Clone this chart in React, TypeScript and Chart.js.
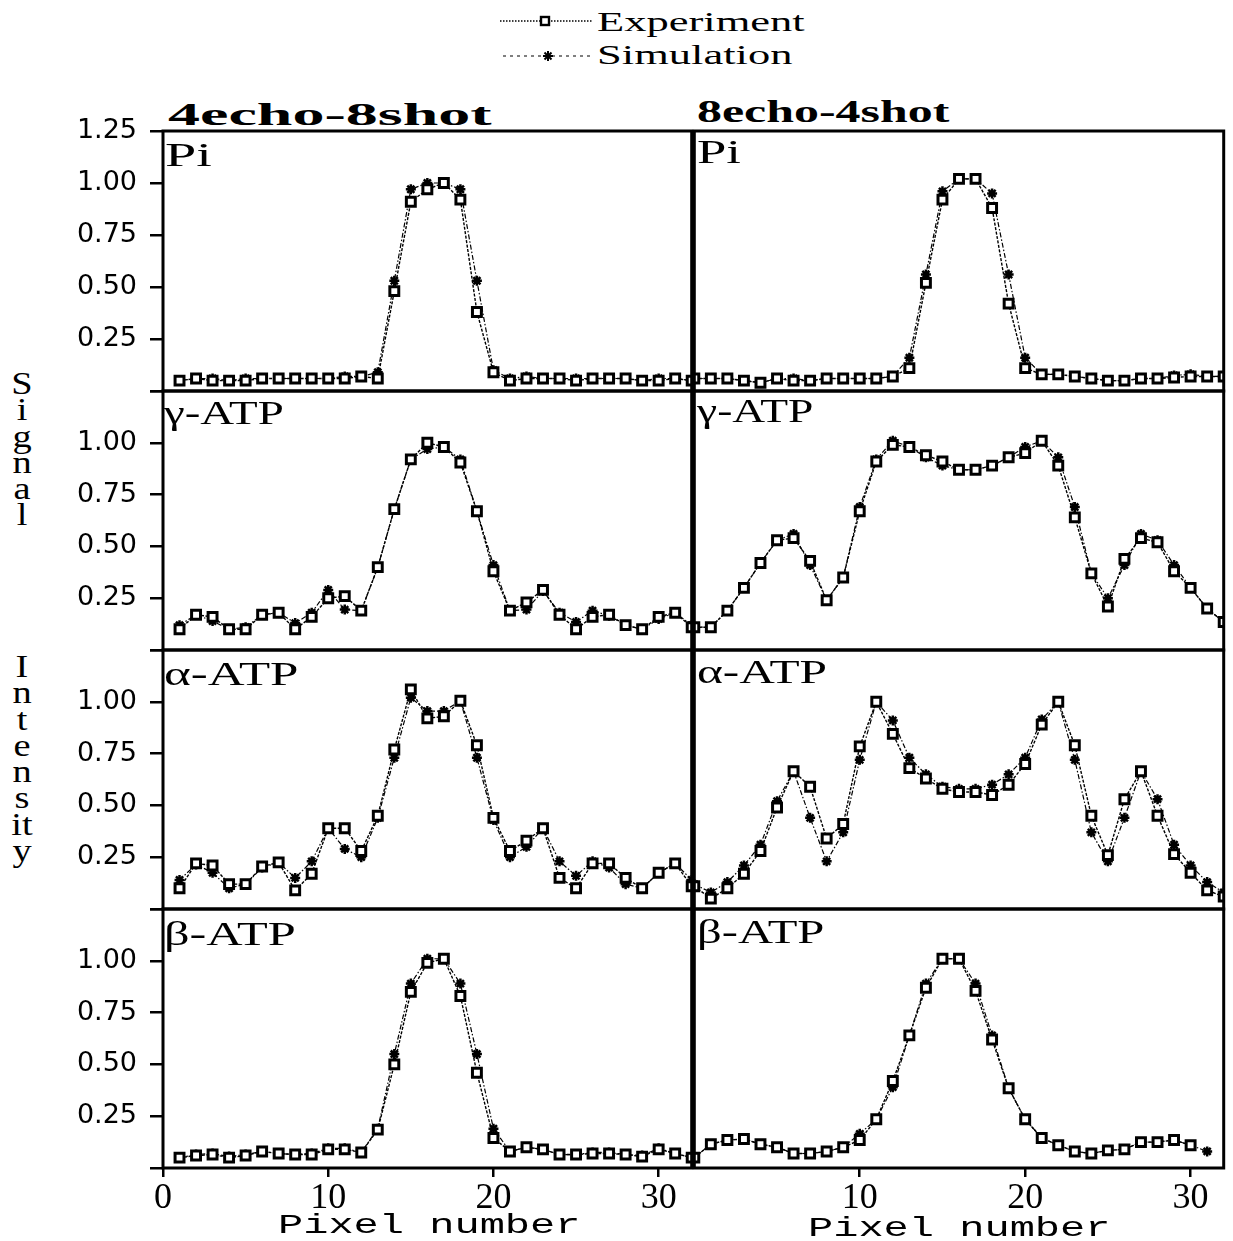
import React, { useEffect, useRef } from "react";
import { Chart, registerables } from "chart.js";

Chart.register(...registerables);

// ---------- DATA ----------
const PIXELS_L = [1, 2, 3, 4, 5, 6, 7, 8, 9, 10, 11, 12, 13, 14, 15, 16, 17, 18, 19, 20, 21, 22, 23, 24, 25, 26, 27, 28, 29, 30, 31, 32];
const PIXELS_R = [0, 1, 2, 3, 4, 5, 6, 7, 8, 9, 10, 11, 12, 13, 14, 15, 16, 17, 18, 19, 20, 21, 22, 23, 24, 25, 26, 27, 28, 29, 30, 31, 32];

// 4echo-8shot (left column), pixels 1..32
const PI_EXP_L = [0.05, 0.06, 0.05, 0.05, 0.05, 0.06, 0.06, 0.06, 0.06, 0.06, 0.06, 0.07, 0.06, 0.48, 0.91, 0.97, 1.0, 0.92, 0.38, 0.09, 0.05, 0.06, 0.06, 0.06, 0.05, 0.06, 0.06, 0.06, 0.05, 0.05, 0.06, 0.05];
const PI_SIM_L = [0.05, 0.06, 0.06, 0.05, 0.06, 0.06, 0.06, 0.06, 0.06, 0.06, 0.07, 0.07, 0.09, 0.53, 0.97, 1.0, 1.0, 0.97, 0.53, 0.1, 0.06, 0.07, 0.06, 0.06, 0.06, 0.06, 0.06, 0.06, 0.05, 0.06, 0.06, 0.05];
const G_EXP_L = [0.1, 0.17, 0.16, 0.1, 0.1, 0.17, 0.18, 0.1, 0.16, 0.25, 0.26, 0.19, 0.4, 0.68, 0.92, 1.0, 0.98, 0.905, 0.67, 0.38, 0.19, 0.23, 0.29, 0.17, 0.1, 0.16, 0.17, 0.12, 0.1, 0.16, 0.18, 0.11];
const G_SIM_L = [0.12, 0.17, 0.14, 0.1, 0.11, 0.17, 0.18, 0.13, 0.18, 0.29, 0.195, 0.19, 0.4, 0.68, 0.92, 0.97, 0.98, 0.92, 0.67, 0.41, 0.19, 0.195, 0.285, 0.18, 0.135, 0.19, 0.165, 0.12, 0.1, 0.15, 0.18, 0.12];
const A_EXP_L = [0.1, 0.22, 0.21, 0.12, 0.12, 0.205, 0.225, 0.09, 0.17, 0.39, 0.39, 0.28, 0.45, 0.77, 1.06, 0.92, 0.93, 1.005, 0.79, 0.44, 0.28, 0.33, 0.39, 0.15, 0.1, 0.22, 0.22, 0.15, 0.1, 0.175, 0.22, 0.11];
const A_SIM_L = [0.14, 0.215, 0.175, 0.1, 0.12, 0.2, 0.225, 0.15, 0.23, 0.39, 0.29, 0.25, 0.44, 0.73, 1.02, 0.955, 0.955, 1.005, 0.73, 0.43, 0.25, 0.3, 0.39, 0.23, 0.16, 0.23, 0.2, 0.12, 0.1, 0.175, 0.22, 0.14];
const B_EXP_L = [0.05, 0.06, 0.065, 0.05, 0.06, 0.08, 0.07, 0.065, 0.065, 0.09, 0.09, 0.075, 0.185, 0.5, 0.85, 0.99, 1.01, 0.83, 0.46, 0.145, 0.08, 0.1, 0.09, 0.065, 0.065, 0.07, 0.07, 0.065, 0.055, 0.09, 0.07, 0.05];
const B_SIM_L = [0.05, 0.065, 0.07, 0.055, 0.065, 0.08, 0.07, 0.065, 0.07, 0.095, 0.095, 0.075, 0.19, 0.55, 0.89, 1.01, 1.01, 0.89, 0.55, 0.19, 0.08, 0.1, 0.09, 0.065, 0.065, 0.075, 0.075, 0.065, 0.06, 0.095, 0.07, 0.05];

// 8echo-4shot (right column), pixels 0..32
const PI_EXP_R = [0.06, 0.06, 0.06, 0.05, 0.04, 0.06, 0.05, 0.05, 0.06, 0.06, 0.06, 0.06, 0.07, 0.11, 0.52, 0.92, 1.02, 1.02, 0.88, 0.42, 0.11, 0.08, 0.08, 0.07, 0.06, 0.05, 0.05, 0.06, 0.06, 0.065, 0.07, 0.07, 0.07];
const PI_SIM_R = [0.06, 0.06, 0.06, 0.05, 0.04, 0.06, 0.06, 0.05, 0.06, 0.06, 0.06, 0.06, 0.07, 0.16, 0.56, 0.96, 1.02, 1.02, 0.95, 0.56, 0.16, 0.08, 0.08, 0.07, 0.06, 0.05, 0.05, 0.06, 0.06, 0.075, 0.08, 0.07, 0.07];
const G_EXP_R = [0.11, 0.11, 0.19, 0.3, 0.42, 0.53, 0.54, 0.43, 0.24, 0.35, 0.67, 0.91, 0.99, 0.98, 0.94, 0.91, 0.87, 0.87, 0.89, 0.93, 0.95, 1.01, 0.89, 0.64, 0.37, 0.21, 0.44, 0.54, 0.52, 0.38, 0.3, 0.2, 0.135];
const G_SIM_R = [0.11, 0.11, 0.19, 0.3, 0.42, 0.53, 0.56, 0.41, 0.24, 0.35, 0.69, 0.92, 1.01, 0.98, 0.93, 0.89, 0.87, 0.87, 0.89, 0.93, 0.98, 1.01, 0.93, 0.69, 0.37, 0.25, 0.41, 0.56, 0.53, 0.41, 0.3, 0.2, 0.135];
const A_EXP_R = [0.11, 0.05, 0.1, 0.17, 0.28, 0.49, 0.665, 0.59, 0.34, 0.41, 0.785, 1.0, 0.845, 0.68, 0.63, 0.58, 0.565, 0.565, 0.55, 0.6, 0.7, 0.89, 1.0, 0.79, 0.45, 0.26, 0.53, 0.665, 0.45, 0.265, 0.175, 0.09, 0.06];
const A_SIM_R = [0.12, 0.08, 0.13, 0.21, 0.31, 0.52, 0.665, 0.44, 0.23, 0.37, 0.72, 1.0, 0.91, 0.73, 0.65, 0.59, 0.58, 0.58, 0.6, 0.65, 0.73, 0.915, 1.0, 0.72, 0.37, 0.23, 0.44, 0.665, 0.53, 0.31, 0.21, 0.13, 0.08];
const B_EXP_R = [0.05, 0.115, 0.135, 0.14, 0.115, 0.1, 0.07, 0.07, 0.08, 0.1, 0.135, 0.235, 0.42, 0.64, 0.87, 1.01, 1.01, 0.855, 0.62, 0.385, 0.235, 0.145, 0.11, 0.08, 0.07, 0.085, 0.09, 0.125, 0.125, 0.135, 0.11, null, null];
const B_SIM_R = [0.05, 0.115, 0.135, 0.14, 0.115, 0.1, 0.07, 0.07, 0.08, 0.1, 0.165, 0.235, 0.39, 0.64, 0.89, 1.01, 1.01, 0.89, 0.64, 0.385, 0.235, 0.145, 0.11, 0.08, 0.07, 0.085, 0.09, 0.125, 0.125, 0.135, 0.11, 0.08, null];

const Y_TICKS = [0, 0.25, 0.5, 0.75, 1.0, 1.25];
const X_TICKS_L = [0, 10, 20, 30];
const X_TICKS_R = [10, 20, 30];
const X_MIN = 0;
const X_MAX = 32;
const Y_MIN = 0;
const Y_MAX = 1.25;

const ROW_LABELS = ["Pi", "\u03b3-ATP", "\u03b1-ATP", "\u03b2-ATP"];
const COL_TITLES = ["4echo-8shot", "8echo-4shot"];
const SERIES_NAMES = ["Experiment", "Simulation"];
const X_TITLE = "Pixel number";
const Y_TITLE_1 = ["S", "i", "g", "n", "a", "l"];
const Y_TITLE_2 = ["I", "n", "t", "e", "n", "s", "it", "y"];

const LEFT_DATA = [
  [PI_EXP_L, PI_SIM_L],
  [G_EXP_L, G_SIM_L],
  [A_EXP_L, A_SIM_L],
  [B_EXP_L, B_SIM_L],
];
const RIGHT_DATA = [
  [PI_EXP_R, PI_SIM_R],
  [G_EXP_R, G_SIM_R],
  [A_EXP_R, A_SIM_R],
  [B_EXP_R, B_SIM_R],
];

// ---------- LAYOUT ----------
const ROW_TOPS = [131, 391, 650, 909];
const ROW_BOTTOM_LAST = 1168;
const PAD = 32;
const XAXIS_H = 56;
const LEFT_CANVAS = { left: 40, width: 661, yAxisW: 123, padL: 0, padR: 8 };
const RIGHT_CANVAS = { left: 685, width: 548, padL: 8, padR: 5 };

const framePlugin = {
  id: "panelFrame",
  afterDraw(chart: any) {
    const { ctx, chartArea: a } = chart;
    ctx.save();
    ctx.strokeStyle = "#000";
    ctx.lineWidth = 3;
    ctx.strokeRect(a.left, a.top, a.right - a.left, a.bottom - a.top);
    ctx.restore();
  },
};

type PanelProps = { col: number; row: number };

function Panel({ col, row }: PanelProps) {
  const ref = useRef<HTMLCanvasElement | null>(null);
  const isBottom = row === 3;
  const rowTop = ROW_TOPS[row];
  const rowH = (row < 3 ? ROW_TOPS[row + 1] : ROW_BOTTOM_LAST) - rowTop;
  const geom = col === 0 ? LEFT_CANVAS : RIGHT_CANVAS;
  const height = PAD + rowH + (isBottom ? XAXIS_H : PAD);

  useEffect(() => {
    const xs = col === 0 ? PIXELS_L : PIXELS_R;
    const [exp, sim] = (col === 0 ? LEFT_DATA : RIGHT_DATA)[row];
    const toPts = (arr: (number | null)[]) => xs.map((x, i) => ({ x, y: arr[i] }));
    const chart = new Chart(ref.current as HTMLCanvasElement, {
      type: "line",
      data: {
        datasets: [
          {
            label: SERIES_NAMES[0],
            data: toPts(exp) as any,
            borderColor: "#000",
            borderWidth: 1.4,
            borderDash: [3, 1.5],
            pointStyle: "rect",
            pointRadius: 6.3,
            pointBorderWidth: 3,
            pointBackgroundColor: "#fff",
            pointBorderColor: "#000",
            spanGaps: false,
            clip: 0,
          },
          {
            label: SERIES_NAMES[1],
            data: toPts(sim) as any,
            borderColor: "#000",
            borderWidth: 1.2,
            borderDash: [5, 2, 1.5, 2],
            pointStyle: "star",
            pointRadius: 5,
            pointBorderWidth: 2.5,
            pointBackgroundColor: "#000",
            pointBorderColor: "#000",
            spanGaps: false,
            clip: 0,
          },
        ],
      },
      options: {
        responsive: false,
        animation: false,
        events: [],
        layout: {
          padding: {
            top: PAD,
            bottom: isBottom ? 0 : PAD,
            left: geom.padL,
            right: geom.padR,
          },
        },
        plugins: {
          legend: { display: false },
          tooltip: { enabled: false },
        },
        scales: {
          x: {
            type: "linear",
            min: X_MIN,
            max: X_MAX,
            display: isBottom,
            afterBuildTicks: (scale: any) => {
              scale.ticks = (col === 0 ? X_TICKS_L : X_TICKS_R).map((v) => ({ value: v }));
            },
            afterFit: (scale: any) => {
              if (isBottom) scale.height = XAXIS_H;
            },
            grid: {
              drawOnChartArea: false,
              drawTicks: true,
              tickLength: 9,
              color: "#000",
              lineWidth: 2.5,
            },
            border: { display: false },
            ticks: {
              padding: 0,
              color: "#000",
              maxRotation: 0,
              autoSkip: false,
              font: { family: "'Liberation Serif'", size: 36 },
              callback: (v: any) => String(v),
            },
          },
          y: {
            type: "linear",
            min: Y_MIN,
            max: Y_MAX,
            display: col === 0,
            afterBuildTicks: (scale: any) => {
              scale.ticks = Y_TICKS.map((v) => ({ value: v }));
            },
            afterFit: (scale: any) => {
              if (col === 0) scale.width = LEFT_CANVAS.yAxisW;
            },
            grid: {
              drawOnChartArea: false,
              drawTicks: true,
              tickLength: 13,
              color: "#000",
              lineWidth: 2.5,
            },
            border: { display: false },
            ticks: {
              padding: 13,
              color: "#000",
              autoSkip: false,
              font: { family: "'DejaVu Sans'", size: 27 },
              callback: (v: any) => {
                const n = Number(v);
                if (n === 0) return "";
                if (n === 1.25) return row === 0 ? "1.25" : "";
                return n.toFixed(2);
              },
            },
          },
        },
      },
      plugins: [framePlugin],
    } as any);
    return () => chart.destroy();
  }, [col, row]);

  return (
    <canvas
      ref={ref}
      width={geom.width}
      height={height}
      style={{
        position: "absolute",
        left: geom.left,
        top: rowTop - PAD,
        width: geom.width,
        height,
      }}
    />
  );
}

const serif = "'Liberation Serif', 'Times New Roman', serif";

function Txt(props: {
  text: string;
  left: number;
  top: number;
  size: number;
  sx: number;
  bold?: boolean;
  family?: string;
}) {
  return (
    <div
      style={{
        position: "absolute",
        left: props.left,
        top: props.top,
        fontFamily: props.family || serif,
        fontSize: props.size,
        fontWeight: props.bold ? 700 : 400,
        lineHeight: 1,
        whiteSpace: "pre",
        color: "#000",
        transform: `scaleX(${props.sx})`,
        transformOrigin: "left top",
      }}
    >
      {props.text}
    </div>
  );
}

function Legend() {
  return (
    <>
      <svg
        width={100}
        height={70}
        style={{ position: "absolute", left: 495, top: 0 }}
      >
        <line x1={5} y1={21} x2={97} y2={21} stroke="#000" strokeWidth={1.3} strokeDasharray="1.5 1.5" />
        <rect x={46} y={17} width={8} height={8} fill="#fff" stroke="#000" strokeWidth={2.4} />
        <line x1={8} y1={56} x2={97} y2={56} stroke="#000" strokeWidth={1.2} strokeDasharray="3 4" />
        <g stroke="#000" strokeWidth={2}>
          <line x1={53} y1={51} x2={53} y2={61} />
          <line x1={48} y1={56} x2={58} y2={56} />
          <line x1={49.5} y1={52.5} x2={56.5} y2={59.5} />
          <line x1={56.5} y1={52.5} x2={49.5} y2={59.5} />
        </g>
      </svg>
      <Txt text={SERIES_NAMES[0]} left={597} top={8} size={28} sx={1.59} />
      <Txt text={SERIES_NAMES[1]} left={597} top={41} size={28} sx={1.59} />
    </>
  );
}

function VerticalTitle(props: { letters: string[]; top: number }) {
  return (
    <div
      style={{
        position: "absolute",
        left: 2,
        top: props.top,
        width: 40,
        textAlign: "center",
        fontFamily: serif,
        fontSize: 32,
        lineHeight: "26.3px",
        color: "#000",
      }}
    >
      {props.letters.map((l, i) => (
        <div key={i} style={{ transform: "scaleX(1.2)" }}>{l}</div>
      ))}
    </div>
  );
}

const LABEL_POS = [
  // [leftX, leftTop, leftScale, rightX, rightTop, rightScale]
  [165, 138, 1.65, 697, 135, 1.55],
  [164, 396, 1.38, 697, 394, 1.34],
  [164, 657, 1.5, 697, 655, 1.45],
  [164, 917, 1.48, 697, 915, 1.43],
];

export default function App() {
  return (
    <div
      style={{
        position: "absolute",
        left: 0,
        top: 0,
        width: 1233,
        height: 1241,
        overflow: "hidden",
        background: "#fff",
      }}
    >
      <Legend />
      <Txt text={COL_TITLES[0]} left={168} top={98} size={32} sx={2.0} bold />
      <Txt text={COL_TITLES[1]} left={697} top={95} size={32} sx={1.56} bold />
      <VerticalTitle letters={Y_TITLE_1} top={370} />
      <VerticalTitle letters={Y_TITLE_2} top={653} />
      {[0, 1, 2, 3].map((r) => (
        <React.Fragment key={r}>
          <Panel col={0} row={r} />
          <Panel col={1} row={r} />
        </React.Fragment>
      ))}
      {ROW_LABELS.map((lab, r) => (
        <React.Fragment key={"lab" + r}>
          <Txt text={lab} left={LABEL_POS[r][0]} top={LABEL_POS[r][1]} size={34} sx={LABEL_POS[r][2]} />
          <Txt text={lab} left={LABEL_POS[r][3]} top={LABEL_POS[r][4]} size={34} sx={LABEL_POS[r][5]} />
        </React.Fragment>
      ))}
      <Txt text={X_TITLE} left={278} top={1212} size={28} sx={1.5} family="'Liberation Mono', 'Courier New', monospace" />
      <Txt text={X_TITLE} left={808} top={1215} size={28} sx={1.5} family="'Liberation Mono', 'Courier New', monospace" />
    </div>
  );
}
